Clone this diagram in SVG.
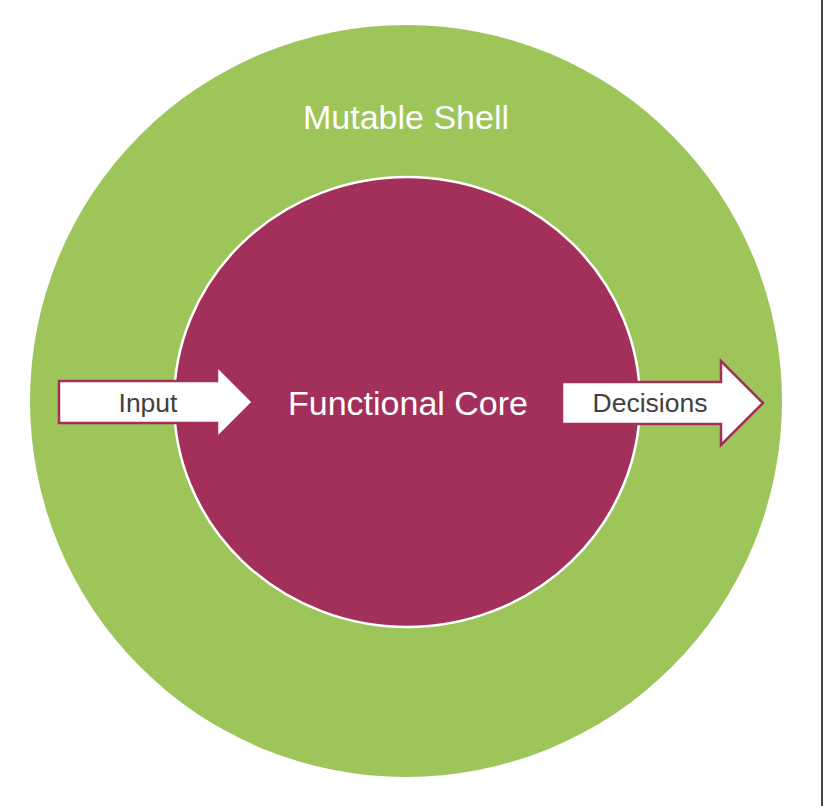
<svg xmlns="http://www.w3.org/2000/svg" width="824" height="806" viewBox="0 0 824 806">
<style>
.lbl{font-family:"Liberation Sans",Arial,sans-serif;text-anchor:middle}
.big{font-size:34px;fill:#ffffff}
.arr{font-size:26.5px;fill:#404040}
.arrow{fill:#ffffff;stroke:#a3305a;stroke-width:2.5;stroke-linejoin:miter}
</style>
<rect x="0" y="0" width="824" height="806" fill="#ffffff"/>
<line x1="822" y1="0" x2="822" y2="806" stroke="#444444" stroke-width="2"/>
<g id="shell">
<circle cx="406" cy="401" r="376" fill="#9dc55a"/>
<text class="lbl big" x="406" y="129">Mutable Shell</text>
</g>
<g id="core">
<ellipse cx="407" cy="402" rx="233" ry="225" fill="#a3305a" stroke="#ffffff" stroke-width="2.5"/>
<text class="lbl big" x="408" y="415">Functional Core</text>
</g>
<g id="connectors">
<g id="input">
<path class="arrow" d="M59,381 H217 V366 L253,402 L217,438 V423 H59 Z"/>
<text class="lbl arr" x="148" y="412">Input</text>
</g>
<g id="decisions">
<path class="arrow" d="M562,382 H721 V361 L763,403 L721,445 V424 H562 Z"/>
<text class="lbl arr" x="650" y="412">Decisions</text>
</g>
</g>
</svg>
